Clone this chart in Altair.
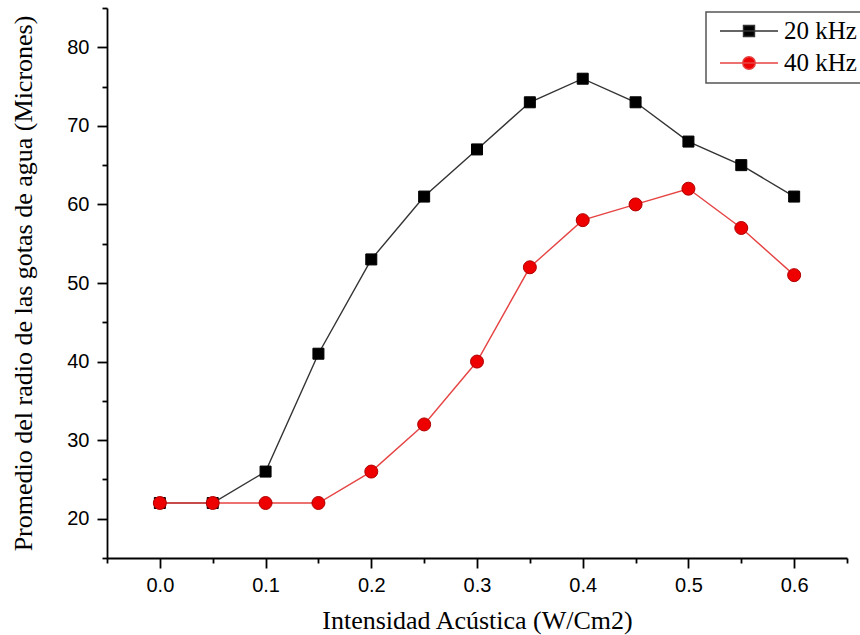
import altair as alt
import pandas as pd

# ---- data ----
intensity = [0.0, 0.05, 0.1, 0.15, 0.2, 0.25, 0.3, 0.35, 0.4, 0.45, 0.5, 0.55, 0.6]
radius_20khz = [22, 22, 26, 41, 53, 61, 67, 73, 76, 73, 68, 65, 61]
radius_40khz = [22, 22, 22, 22, 26, 32, 40, 52, 58, 60, 62, 57, 51]
series_names = ["20 kHz", "40 kHz"]
x_tick_values = [-0.05, 0.0, 0.05, 0.1, 0.15, 0.2, 0.25, 0.3, 0.35, 0.4, 0.45, 0.5, 0.55, 0.6, 0.65]
y_tick_values = [15, 20, 25, 30, 35, 40, 45, 50, 55, 60, 65, 70, 75, 80, 85]

rows = []
for xv, yv in zip(intensity, radius_20khz):
    rows.append({"x": xv, "y": yv, "series": series_names[0]})
for xv, yv in zip(intensity, radius_40khz):
    rows.append({"x": xv, "y": yv, "series": series_names[1]})
df = pd.DataFrame(rows)

# ---- styling ----
black_line = "#333333"
red_line = "#e64444"
red_fill = "#ee0000"
red_edge = "#b00000"

x_axis = alt.Axis(
    values=x_tick_values,
    labelExpr="round(datum.value*100) % 10 === 0 ? format(datum.value, '.1f') : ''",
    tickSize={"condition": {"test": "round(datum.value*100) % 10 === 0", "value": 10}, "value": 5},
    title="Intensidad Acústica (W/Cm2)",
    grid=False,
    domainColor="black",
    domainWidth=1.8,
    tickColor="black",
    tickWidth=1.8,
    labelFont="Liberation Sans",
    labelFontSize=20,
    labelColor="black",
    labelPadding=7,
    labelOverlap=False,
    titleFont="Liberation Serif",
    titleFontSize=26,
    titleFontWeight="normal",
    titleColor="black",
    titlePadding=12,
)

y_axis = alt.Axis(
    values=y_tick_values,
    labelExpr="datum.value % 10 === 0 ? datum.label : ''",
    tickSize={"condition": {"test": "datum.value % 10 === 0", "value": 10}, "value": 5},
    title="Promedio del radio de las gotas de agua (Micrones)",
    grid=False,
    domainColor="black",
    domainWidth=1.8,
    tickColor="black",
    tickWidth=1.8,
    labelFont="Liberation Sans",
    labelFontSize=20,
    labelColor="black",
    labelPadding=8,
    labelOverlap=False,
    titleFont="Liberation Serif",
    titleFontSize=26,
    titleFontWeight="normal",
    titleColor="black",
    titlePadding=30,
)

x_enc = alt.X("x:Q", scale=alt.Scale(domain=[-0.05, 0.65], nice=False, zero=False), axis=x_axis)
y_enc = alt.Y("y:Q", scale=alt.Scale(domain=[15, 85], nice=False, zero=False), axis=y_axis)

base = alt.Chart(df)

line20 = base.transform_filter(alt.datum.series == series_names[0]).mark_line(
    color=black_line, strokeWidth=1.4
).encode(x=x_enc, y=y_enc)

pts20 = base.transform_filter(alt.datum.series == series_names[0]).mark_point(
    shape="square", filled=True, size=121, fill="black", stroke="black", strokeWidth=1, opacity=1
).encode(x=x_enc, y=y_enc)

line40 = base.transform_filter(alt.datum.series == series_names[1]).mark_line(
    color=red_line, strokeWidth=1.4
).encode(x=x_enc, y=y_enc)

pts40 = base.transform_filter(alt.datum.series == series_names[1]).mark_point(
    shape="circle", filled=True, size=169, fill=red_fill, stroke=red_edge, strokeWidth=1, opacity=1
).encode(x=x_enc, y=y_enc)

# legend symbols: line with marker
sym_square = "M-1,0H1M-0.19,-0.19H0.19V0.19H-0.19Z"
sym_circle = "M-1,0H1M-0.217,0A0.217,0.217,0,1,0,0.217,0A0.217,0.217,0,1,0,-0.217,0Z"

legend_def = alt.Legend(
    title=None,
    orient="none",
    legendX=599,
    legendY=4,
    symbolSize=3364,
    symbolStrokeWidth=1.4,
    symbolOffset=6,
    labelOffset=5,
    labelFont="Liberation Serif",
    labelFontSize=25,
    labelColor="black",
    clipHeight=24,
    rowPadding=7,
    padding=7,
    strokeColor="#555555",
    fillColor="white",
    labelLimit=300,
)

legend_layer = base.transform_filter("datum.x < -1").mark_point(
    filled=True, opacity=1, strokeWidth=1.4
).encode(
    x=x_enc,
    y=y_enc,
    fill=alt.Fill("series:N", scale=alt.Scale(domain=series_names, range=["black", red_fill]), legend=legend_def),
    stroke=alt.Stroke("series:N", scale=alt.Scale(domain=series_names, range=[black_line, red_line]), legend=legend_def),
    shape=alt.Shape("series:N", scale=alt.Scale(domain=series_names, range=[sym_square, sym_circle]), legend=legend_def),
)

chart = alt.layer(line20, pts20, line40, pts40, legend_layer).properties(
    width=740,
    height=550,
    autosize=alt.AutoSizeParams(type="none"),
    padding={"left": 107, "top": 8, "right": 13, "bottom": 77},
    background="white",
).configure_view(strokeWidth=0).configure_legend(strokeWidth=1.5)

chart.save("out.html", embed_options={"renderer": "svg", "actions": False})
